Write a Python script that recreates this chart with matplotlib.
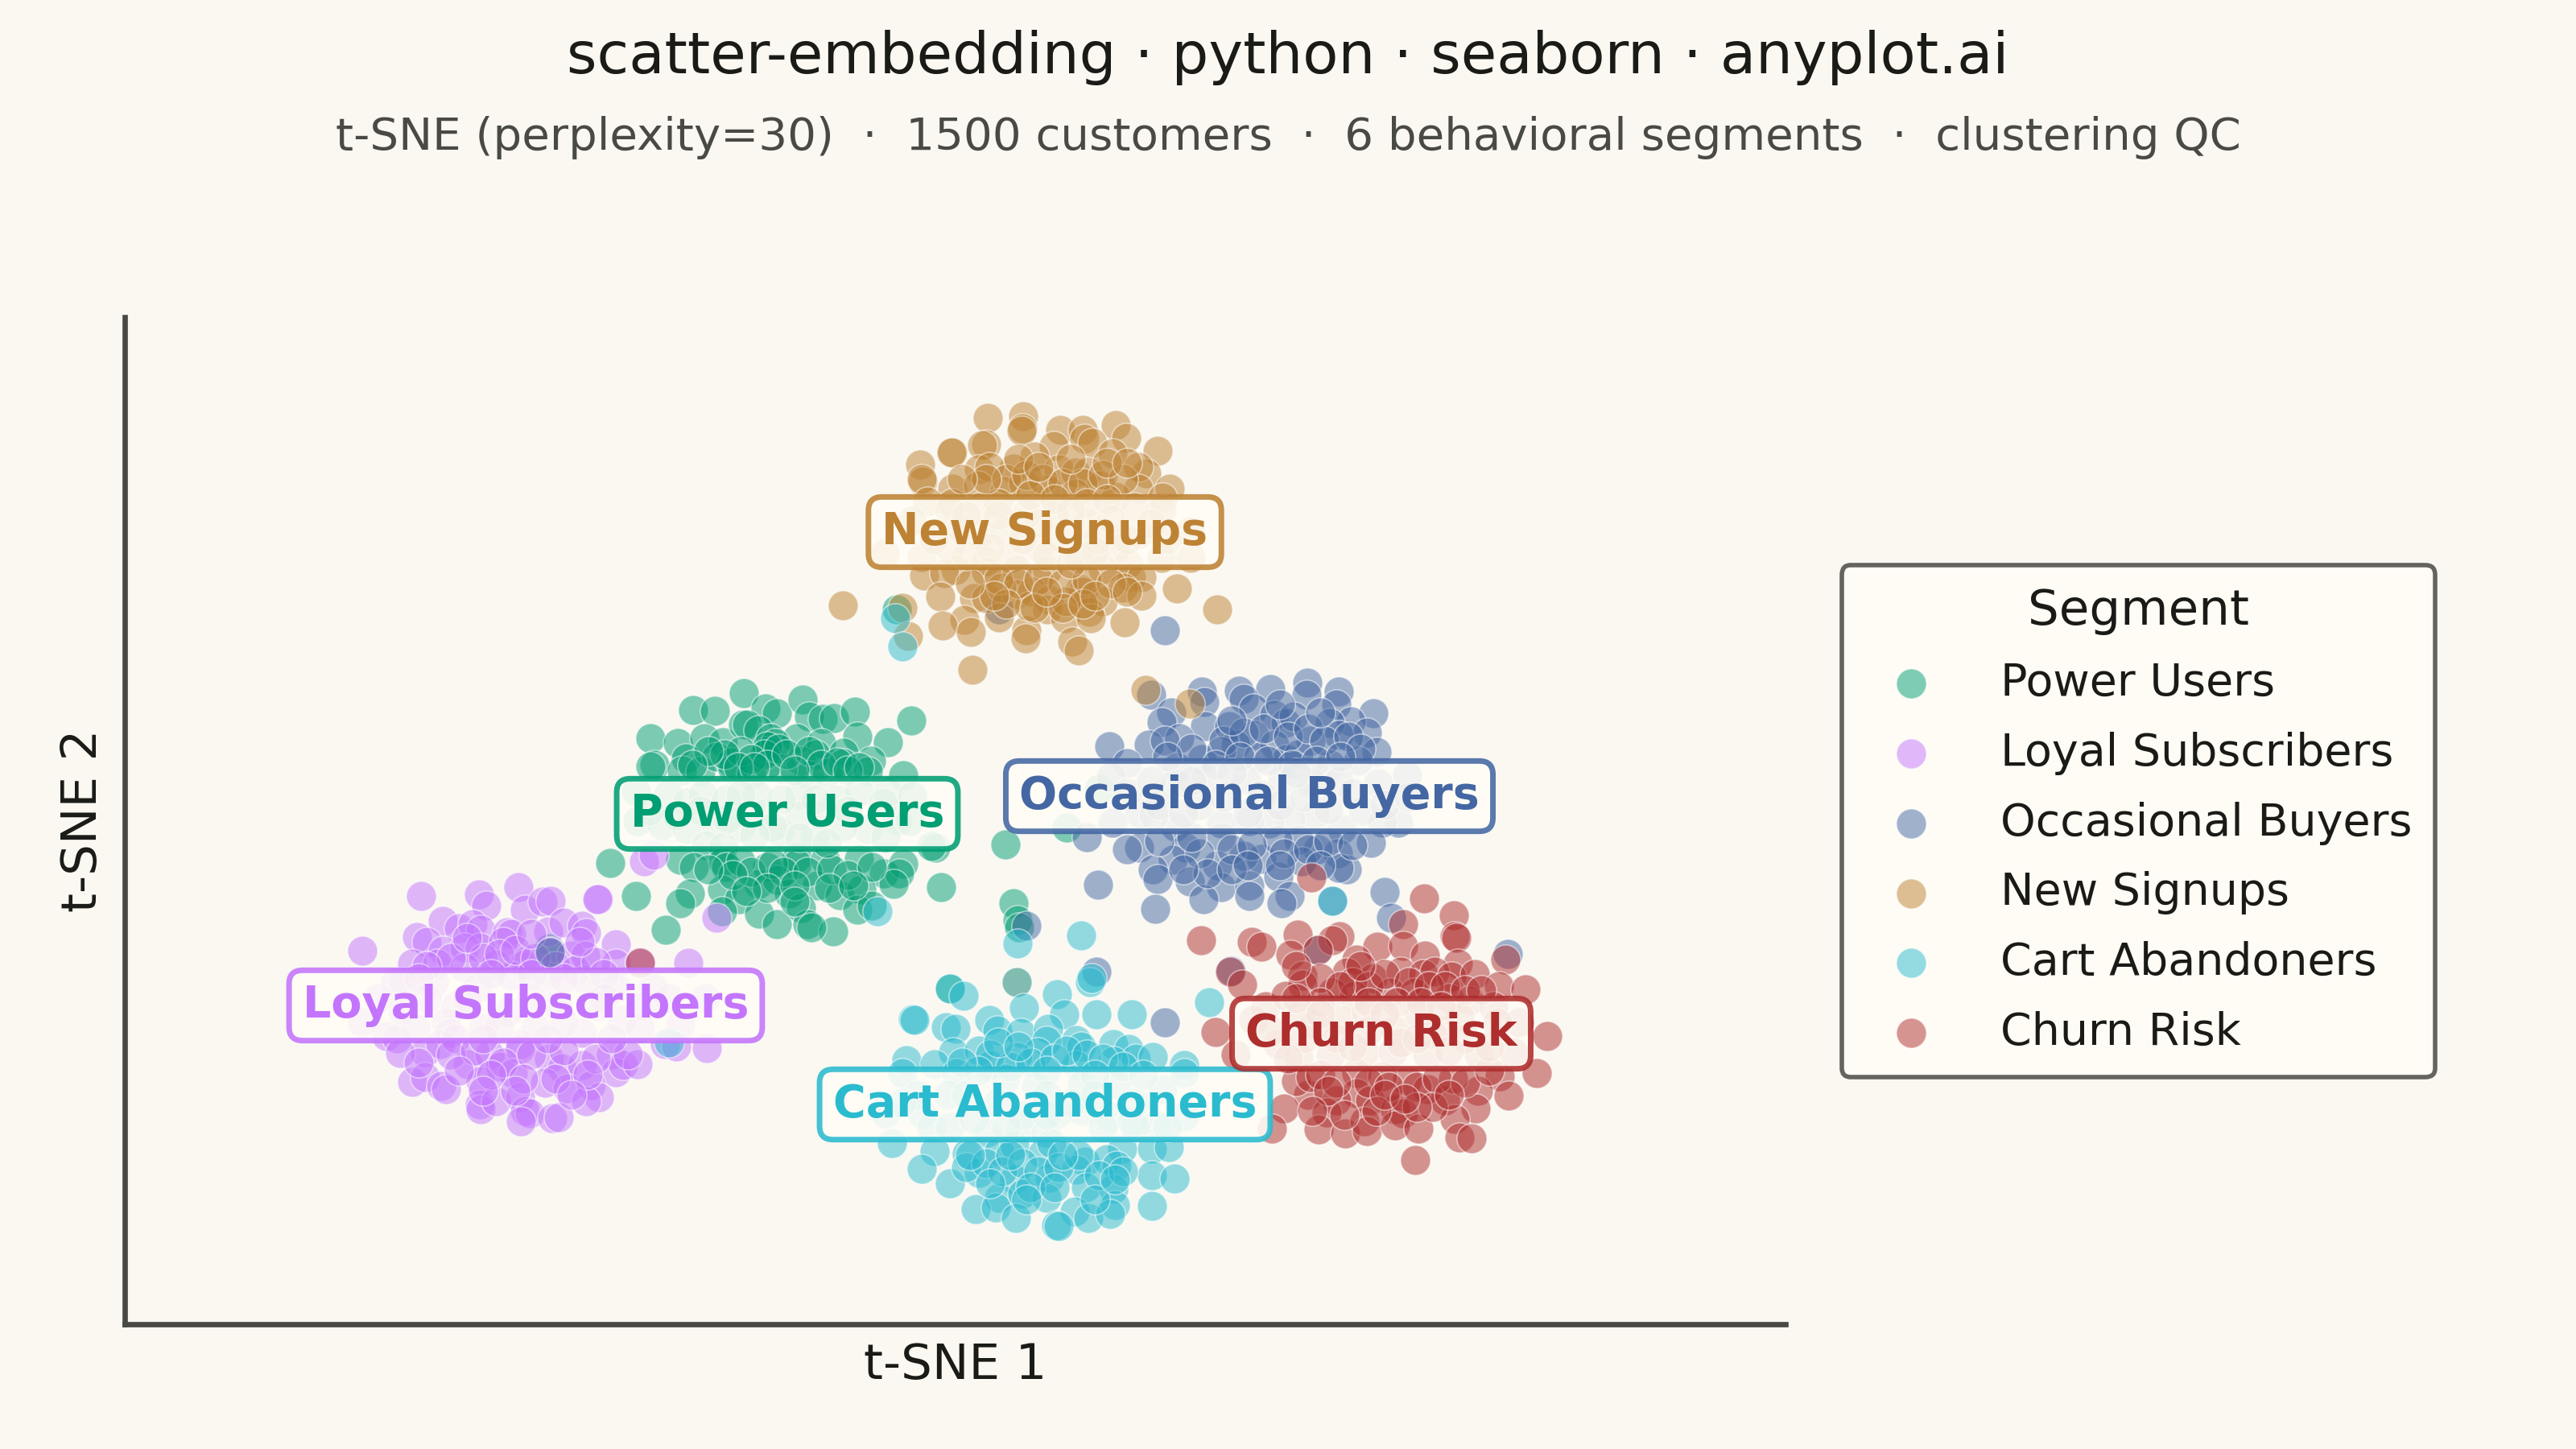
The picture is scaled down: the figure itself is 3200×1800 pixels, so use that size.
import matplotlib
matplotlib.use("Agg")
import matplotlib.pyplot as plt
import numpy as np

# segment names, colours
segments = ["Power Users", "Loyal Subscribers", "Occasional Buyers", "New Signups", "Cart Abandoners", "Churn Risk"]
colors = ["#009E73", "#C475FD", "#4467A3", "#BD8233", "#2ABBCF", "#AE2D2D"]

# label anchor of each segment (median of its points)
label_x = [978, 653, 1552, 1298, 1298, 1716]
label_y = [789, 551, 811, 1139, 428, 516]

# embedding coordinates
power = [(924,939),(861,918),(888,917),(951,920),(965,914),(997,931),(1005,910),(1022,907),(1036,908),(1062,916),
 (1132,905),(808,883),(842,877),(875,883),(898,878),(923,900),(928,900),(942,893),(957,883),(990,883),(1020,877),
 (1065,885),(1103,878),(813,850),(808,848),(852,858),(847,843),(870,842),(890,860),(908,853),(910,845),(953,867),
 (963,877),(995,855),(1013,863),(1005,837),(972,845),(1027,840),(1048,865),(1047,852),(1082,855),(1078,842),
 (1122,837),(933,838),(790,817),(792,780),(822,775),(830,813),(853,803),(873,813),(902,807),(940,813),(950,790),
 (993,813),(968,767),(1012,760),(1040,807),(1067,817),(1103,817),(1133,812),(1115,780),(1078,770),(1047,773),
 (920,773),(887,777),(853,770),(877,750),(898,748),(993,787),(1020,788),(1162,747),(1157,749),(758,728),(845,732),
 (862,723),(898,730),(902,723),(953,723),(990,735),(990,727),(1025,732),(1067,733),(1098,715),(1122,727),(1117,715),
 (1110,702),(897,695),(942,702),(965,707),(980,690),(1015,700),(1043,688),(1070,695),(918,683),(857,690),(845,678),
 (790,687),(1169,698),(943,665),(965,652),(995,672),(1003,652),(1035,643),(1008,648),(1065,670),(1083,675),(827,645),
 (897,668),(1249,751),(1325,772),(1259,678),(1264,657),(1266,648),(1180,572),(1114,1043),(682,622),(1365,820),
 (953,873),(950,863),(967,870),(920,867),(933,857),(953,850),(977,863),(1005,867),(1020,850),(1040,853),(900,863),
 (880,867),(917,847),(937,847),(987,843),(1053,843),(1067,847),(860,850),(920,730),(933,717),(960,727),(973,717),
 (1003,717),(1033,720),(1053,713),(1083,723),(910,713),(953,697),(987,700),(1030,697),(1060,700),(927,693),(987,680),
 (880,720),(920,813),(970,807),(1013,807),(1053,793),(960,773),(903,783),(870,793),(840,787),(807,793),(1097,803),
 (1130,780),(937,763),(993,760),(1027,753),(1100,760)]

loyal = [(523,687),(595,689),(604,675),(644,698),(652,670),(674,680),(684,681),(743,683),(550,656),(570,647),(587,652),
 (597,645),(630,642),(635,640),(681,643),(700,654),(723,650),(728,641),(765,627),(518,636),(530,630),(550,619),
 (450,619),(577,623),(596,623),(625,630),(654,607),(684,618),(709,613),(727,613),(512,603),(543,603),(577,598),
 (616,602),(652,602),(765,603),(855,604),(795,605),(501,580),(491,580),(539,580),(593,573),(635,588),(681,587),
 (727,583),(765,573),(811,573),(876,560),(566,550),(554,530),(516,523),(480,513),(600,523),(631,543),(665,523),
 (723,517),(772,533),(795,523),(845,527),(692,553),(742,550),(558,517),(646,503),(493,510),(878,498),(826,503),
 (528,493),(497,492),(547,503),(566,510),(581,478),(608,490),(621,475),(646,497),(637,467),(682,485),(698,473),
 (723,477),(759,490),(765,468),(774,477),(792,478),(512,456),(528,462),(548,451),(554,447),(597,457),(677,455),
 (705,448),(734,452),(744,437),(728,432),(596,428),(597,422),(616,432),(646,437),(652,420),(658,417),(647,407),
 (686,411),(694,412),(800,730),(812,738),(742,683),(890,660),
 (600,610),(620,615),(640,620),(665,610),(690,600),(715,595),(740,605),(560,610),(530,600),(610,590),(660,590),
 (700,585),(750,590),(580,635),(660,640),(720,630),(520,585),(560,490),(590,495),(625,480),(660,490),(700,495),
 (740,485),(780,490),(570,470),(610,465),(650,460),(690,460),(730,465),(600,445),(640,445),(710,440),(520,480),
 (530,560),(580,560),(620,525),(660,560),(700,530),(750,560),(800,550),(830,560),(500,545),(450,530),(600,510),
 (680,510),(760,510),(470,560),(840,500)]

occasional = [(1493,941),(1539,942),(1578,944),(1624,952),(1663,941),(1623,937),(1660,925),(1430,937),(1496,928),
 (1545,932),(1455,915),(1443,903),(1497,898),(1527,898),(1557,920),(1583,912),(1597,902),(1607,910),(1706,914),
 (1678,904),(1652,902),(1698,890),(1663,887),(1378,873),(1427,875),(1465,883),(1447,880),(1558,887),(1535,875),
 (1583,875),(1598,857),(1628,880),(1710,866),(1687,855),(1400,852),(1493,857),(1517,867),(1563,860),(1613,863),
 (1653,850),(1462,847),(1380,835),(1748,837),(1712,827),(1663,830),(1630,827),(1593,833),(1548,832),(1497,833),
 (1460,827),(1415,790),(1382,778),(1350,760),(1737,778),(1717,778),(1667,770),(1633,787),(1603,782),(1577,777),
 (1552,780),(1517,777),(1490,800),(1460,773),(1433,787),(1693,793),(1567,813),(1703,753),(1662,740),(1637,745),
 (1613,757),(1617,730),(1673,720),(1663,722),(1567,733),(1545,737),(1587,757),(1517,760),(1473,747),(1457,732),
 (1415,747),(1400,745),(1512,725),(1432,720),(1438,708),(1478,705),(1517,698),(1552,700),(1552,687),(1588,711),
 (1602,687),(1592,678),(1495,683),(1364,701),(1435,671),(1720,692),(1728,660),(1275,650),(1362,593),(1447,530),
 (1529,594),(1637,620),(1873,615),(1447,1017),(1241,1043),(1655,681),(683,617),
 (1520,880),(1545,890),(1570,895),(1600,885),(1625,895),(1645,880),(1675,885),(1690,870),(1510,850),(1540,860),
 (1575,855),(1605,850),(1635,855),(1665,860),(1480,870),(1450,860),(1530,905),(1590,925),(1640,915),(1440,755),
 (1490,740),(1530,745),(1555,750),(1595,740),(1625,745),(1650,755),(1680,750),(1500,715),(1530,720),(1590,725),
 (1470,720),(1550,725),(1480,760),(1640,725),(1440,800),(1480,830),(1520,810),(1550,790),(1590,800),(1620,810),
 (1650,795),(1680,815),(1720,800),(1400,815),(1430,830),(1530,840),(1610,840),(1470,790),(1750,810)]

signups = [(1227,1281),(1271,1283),(1270,1268),(1269,1265),(1317,1266),(1345,1266),(1386,1272),(1399,1256),(1225,1248),
 (1220,1247),(1183,1238),(1182,1238),(1143,1223),(1438,1240),(1309,1246),(1347,1255),(1357,1250),(1382,1237),
 (1285,1233),(1259,1218),(1216,1217),(1229,1220),(1315,1217),(1336,1213),(1351,1214),(1424,1212),(1414,1220),
 (1146,1202),(1145,1205),(1183,1193),(1215,1197),(1248,1190),(1301,1192),(1367,1197),(1414,1193),(1453,1193),
 (1444,1182),(1152,1177),(1183,1175),(1386,1183),(1336,1187),(1271,1200),(1099,1113),(1145,1108),(1179,1120),
 (1217,1137),(1179,1167),(1217,1170),(1248,1140),(1256,1107),(1290,1120),(1317,1133),(1351,1150),(1386,1120),
 (1416,1137),(1443,1107),(1479,1107),(1478,1140),(1443,1167),(1409,1170),(1340,1107),(1275,1163),(1309,1160),
 (1363,1130),(1194,1143),(1133,1153),(1225,1103),(1401,1100),(1148,1085),(1187,1092),(1173,1088),(1225,1090),
 (1263,1093),(1301,1092),(1370,1093),(1405,1083),(1418,1083),(1462,1069),(1512,1043),(1168,1059),(1210,1057),
 (1225,1057),(1263,1062),(1282,1065),(1303,1055),(1342,1068),(1345,1065),(1395,1070),(1418,1060),(1370,1053),
 (1047,1048),(1121,1045),(1198,1030),(1171,1023),(1206,1015),(1241,1033),(1275,1017),(1274,1007),(1301,1043),
 (1323,1032),(1353,1040),(1355,1032),(1397,1027),(1332,1003),(1340,992),(1128,1010),(1208,968),(1278,1047),
 (1324,1053),(1244,1070),(1423,943),(1478,926),(1263,580),
 (1250,1205),(1275,1210),(1295,1205),(1320,1200),(1345,1200),(1370,1210),(1395,1205),(1280,1185),(1310,1180),
 (1350,1175),(1375,1180),(1240,1175),(1225,1205),(1265,1230),(1290,1220),(1330,1230),(1375,1225),(1400,1225),
 (1195,1205),(1240,1080),(1265,1075),(1290,1080),(1320,1075),(1350,1080),(1380,1075),(1400,1065),(1250,1050),
 (1285,1045),(1320,1045),(1345,1050),(1360,1060),(1235,1060),(1205,1075),(1300,1065),(1200,1110),(1230,1120),
 (1270,1130),(1300,1110),(1330,1100),(1360,1115),(1400,1130),(1430,1150),(1200,1160),(1240,1160),(1290,1150),
 (1330,1165),(1380,1155),(1160,1130),(1450,1130)]

cart = [(1264,628),(1343,638),(1263,580),(1354,580),(1356,585),(1180,572),(1197,563),(1313,565),(1272,548),(1502,555),
 (1134,534),(1136,533),(1175,524),(1187,522),(1229,533),(1239,520),(1268,517),(1322,540),(1362,540),(1406,540),
 (1302,522),(1337,508),(1343,500),(1383,503),(1300,507),(1184,493),(1216,495),(1289,493),(1402,497),(1411,485),
 (1432,487),(1471,477),(1126,483),(1161,478),(1264,487),(1230,477),(1337,477),(1383,482),(1121,467),(1188,467),
 (1249,460),(1287,450),(1344,453),(1387,453),(1444,447),(1471,467),(1100,417),(1145,417),(1178,440),(1226,393),
 (1268,400),(1314,417),(1344,420),(1379,413),(1406,407),(1436,403),(1471,413),(1157,400),(1180,400),(1299,393),
 (1108,380),(1161,370),(1201,367),(1241,370),(1260,377),(1295,367),(1306,380),(1394,373),(1431,373),(1452,375),
 (1348,357),(1375,360),(1145,348),(1216,343),(1180,330),(1260,335),(1304,337),(1337,347),(1387,352),(1431,340),
 (1459,336),(1349,325),(1383,323),(1241,312),(1270,317),(1300,312),(1212,298),(1237,300),(1262,287),(1335,295),
 (1352,287),(1385,303),(1379,292),(1431,302),(1312,278),(1315,277),(1112,1032),(1121,997),(1090,668),(831,505),
 (1655,681),
 (1230,490),(1255,475),(1280,480),(1310,485),(1325,495),(1350,490),(1370,485),(1395,475),(1215,470),(1240,505),
 (1300,470),(1360,465),(1420,465),(1195,480),(1265,500),(1200,350),(1225,355),(1245,345),(1270,355),(1290,345),
 (1315,350),(1340,365),(1365,340),(1395,345),(1230,330),(1280,325),(1310,325),(1360,310),(1385,335),(1205,365),
 (1320,365),(1255,365),(1275,310),(1200,440),(1240,430),(1270,415),(1300,440),(1330,430),(1360,440),(1410,430),
 (1140,440),(1210,410),(1250,400),(1300,415),(1370,400),(1410,400),(1120,430),(1450,400)]

churn = [(1769,684),(1806,663),(1629,710),(1807,637),(1809,635),(1743,652),(1492,632),(1555,630),(1567,624),(1612,639),
 (1664,637),(1655,632),(1603,614),(1711,624),(1743,625),(1637,620),(1685,608),(1770,613),(1811,603),(1870,608),
 (1528,593),(1543,577),(1618,588),(1618,577),(1705,585),(1673,592),(1740,593),(1768,590),(1782,593),(1803,587),
 (1832,590),(1655,567),(1682,563),(1727,567),(1757,567),(1862,575),(1895,571),(1800,560),(1825,557),(1572,550),
 (1597,563),(1855,550),(1887,530),(1922,513),(1510,518),(1535,490),(1557,533),(1587,503),(1633,527),(1695,493),
 (1733,520),(1793,520),(1837,490),(1880,493),(1617,543),(1667,533),(1763,540),(1653,490),(1773,490),(1813,537),
 (1613,487),(1730,493),(1697,543),(1909,467),(1863,463),(1874,439),(1836,445),(1833,423),(1625,440),(1610,457),
 (1595,423),(1580,398),(1628,462),(1685,467),(1685,442),(1660,433),(1702,433),(1648,418),(1748,458),(1733,422),
 (1743,417),(1795,433),(1773,447),(1805,460),(1638,397),(1671,392),(1695,407),(1698,395),(1733,402),(1762,398),
 (1807,410),(1813,387),(1828,386),(1758,359),(1717,463),(795,604),
 (1680,580),(1700,575),(1720,590),(1750,580),(1775,575),(1795,575),(1820,570),(1840,570),(1640,585),(1665,575),
 (1700,555),(1735,555),(1765,555),(1640,555),(1610,560),(1790,550),(1690,600),(1610,600),(1640,465),(1660,455),
 (1700,455),(1725,450),(1760,450),(1785,460),(1820,455),(1850,470),(1650,445),(1710,420),(1780,425),(1760,425),
 (1720,440),(1800,440),(1670,415),(1745,435),(1630,420),(1580,520),(1620,510),(1660,510),(1700,520),(1740,505),
 (1780,515),(1820,510),(1860,530),(1600,485),(1680,500),(1760,510),(1850,500),(1640,540),(1720,540),(1800,495)]

point_sets = [power, loyal, occasional, signups, cart, churn]

BG = "#FAF8F1"
PANEL = "#FFFDF6"
INK = "#1A1A17"
SOFT = "#4A4A44"

fig = plt.figure(figsize=(16, 9), dpi=200, facecolor=BG)
ax = fig.add_axes([155 / 3200, 155 / 1800, (2218 - 155) / 3200, (1406 - 155) / 1800], facecolor=BG)

handles = []
for name, color, pts in zip(segments, colors, point_sets):
    pts = np.array(pts)
    sc = ax.scatter(pts[:, 0], pts[:, 1], s=180, c=color, alpha=0.5, edgecolors="white", linewidths=0.6, label=name)
    handles.append(sc)

ax.set_xlim(155, 2218)
ax.set_ylim(155, 1406)
ax.set_xticks([])
ax.set_yticks([])
ax.set_xlabel("t-SNE 1", fontsize=22, color=INK, labelpad=8)
ax.set_ylabel("t-SNE 2", fontsize=22, color=INK, labelpad=8)
ax.spines["top"].set_visible(False)
ax.spines["right"].set_visible(False)
ax.spines["left"].set_color(SOFT)
ax.spines["bottom"].set_color(SOFT)
ax.spines["left"].set_linewidth(2.4)
ax.spines["bottom"].set_linewidth(2.4)

# segment names on the cluster centres
for name, color, lx, ly in zip(segments, colors, label_x, label_y):
    ax.annotate(name, (lx, ly), ha="center", va="center", fontsize=20, fontweight="bold", color=color, zorder=5,
                bbox=dict(boxstyle="round,pad=0.3", facecolor=PANEL, edgecolor=color, linewidth=2.5, alpha=0.88))

leg = fig.legend(handles=handles, title="Segment", loc="center left", bbox_to_anchor=(2288 / 3200, 1 - 1020 / 1800),
                 fontsize=20, title_fontsize=22, frameon=True, facecolor=PANEL, edgecolor=SOFT, framealpha=1,
                 labelspacing=0.59, handlelength=2.09, handletextpad=0.96, borderpad=0.5, borderaxespad=0)
leg.get_frame().set_linewidth(2)
leg.get_frame().set_alpha(0.85)
for t in leg.get_texts():
    t.set_color(INK)
leg.get_title().set_color(INK)

fig.text(0.5, 1 - 71 / 1800, "scatter-embedding · python · seaborn · anyplot.ai", ha="center", va="center",
         fontsize=26, color=INK)
fig.text(0.5, 1 - 171 / 1800, "t-SNE (perplexity=30)  ·  1500 customers  ·  6 behavioral segments  ·  clustering QC",
         ha="center", va="center", fontsize=20.25, color=SOFT)

fig.savefig("out.png", dpi=200, facecolor=BG)
